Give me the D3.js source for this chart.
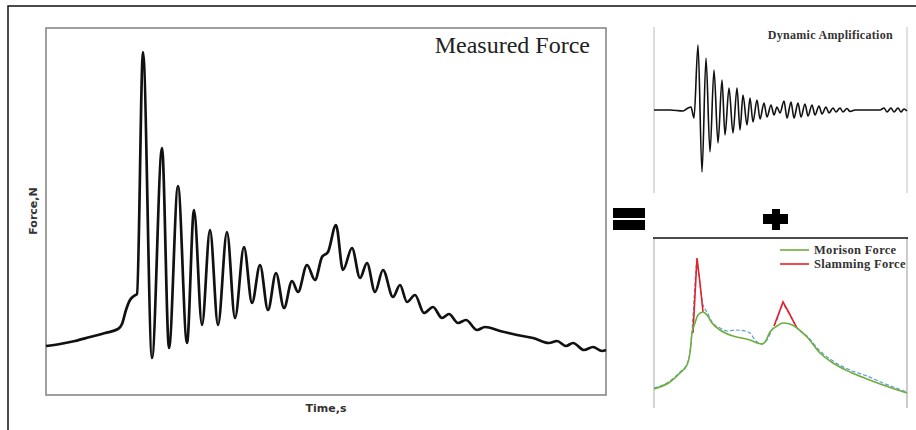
<!DOCTYPE html>
<html>
<head>
<meta charset="utf-8">
<script src="https://cdn.jsdelivr.net/npm/d3@7"></script>
<style>
  body { margin: 0; background: #fff; }
  svg { display: block; }
  .serif { font-family: "Liberation Serif", "Times New Roman", serif; }
  .sans { font-family: "DejaVu Sans", Verdana, sans-serif; font-weight: bold; }
</style>
</head>
<body>
<div id="div_graph"></div>
<script>
// measured force (main panel), time in s, force in N
var measTime = [0, 0.14, 0.29, 0.44, 0.59, 0.72, 0.76, 0.80, 0.84, 0.88, 0.91, 0.97, 1.06, 1.16, 1.23, 1.32,
  1.41, 1.48, 1.56, 1.64, 1.72, 1.81, 1.89, 1.98, 2.06, 2.14, 2.22, 2.30, 2.38, 2.46, 2.52, 2.61, 2.69,
  2.76, 2.82, 2.90, 2.97, 3.06, 3.14, 3.21, 3.29, 3.37, 3.47, 3.54, 3.61, 3.69, 3.78, 3.87, 3.96, 4.03,
  4.12, 4.20, 4.31, 4.39, 4.54, 4.71, 4.87, 5.03, 5.11, 5.20, 5.27, 5.38, 5.47, 5.56, 5.60];
var measForce = [49, 51, 54, 58, 62, 66, 71, 85, 95, 99, 101, 343, 37, 247, 47, 209,
  52, 185, 70, 165, 70, 163, 77, 148, 92, 130, 85, 122, 87, 114, 103, 130, 115,
  138, 143, 170, 125, 147, 117, 132, 103, 125, 98, 110, 93, 100, 82, 88, 77, 81,
  72, 75, 65, 68, 64, 60, 57, 52, 54, 49, 52, 45, 48, 44, 45];

// dynamic amplification (top right)
var dynTime = [0, 0.16, 0.29, 0.34, 0.37, 0.40, 0.44, 0.48, 0.52, 0.56, 0.60, 0.64, 0.68, 0.71, 0.75, 0.79,
  0.83, 0.86, 0.89, 0.93, 0.96, 0.99, 1.03, 1.06, 1.10, 1.13, 1.17, 1.20, 1.23, 1.26, 1.30, 1.33, 1.37,
  1.40, 1.44, 1.47, 1.51, 1.54, 1.58, 1.61, 1.65, 1.68, 1.72, 1.75, 1.79, 1.82, 1.86, 1.89, 1.93, 1.96,
  2.01, 2.26, 2.30, 2.33, 2.37, 2.40, 2.44, 2.47, 2.50, 2.53];
var dynForce = [0, 0, -1, 2, 3, -8, 65, -62, 52, -42, 40, -33, 30, -25, 22, -23,
  22, -20, 15, -15, 12, -12, 10, -9, 7, -7, 5, -5, 3, -3, 9, -8, 8,
  -8, 7, -7, 6, -6, 5, -5, 4, -4, 3, -3, 2, -2, 2, -2, 1.5, -1.5,
  0, 0, 2, -2, 2, -2, 2, -2, 1, -1];

// Morison force (green), slamming force (red), measured (blue dashed)
var morTime = [0, 0.16, 0.26, 0.33, 0.36, 0.38, 0.41, 0.44, 0.49, 0.53, 0.58, 0.66, 0.79, 0.96, 1.03,
  1.08, 1.11, 1.16, 1.23, 1.29, 1.36, 1.43, 1.53, 1.66, 1.79, 1.96, 2.13, 2.29, 2.53];
var morForce = [19, 26, 35, 43, 55, 75, 85, 93, 96, 93, 85, 78, 72, 68, 65,
  64, 66, 76, 82, 85, 84, 80, 71, 55, 45, 36, 29, 23, 15];

var slamTime1 = [0.39, 0.43, 0.46, 0.49];
var slamForce1 = [75, 150, 125, 96];
var slamTime2 = [1.20, 1.29, 1.34, 1.43];
var slamForce2 = [82, 106, 97, 80];

var blueTime = [0, 0.16, 0.26, 0.33, 0.36, 0.38, 0.40, 0.43, 0.46, 0.49, 0.53, 0.58, 0.66, 0.74, 0.81,
  0.91, 0.96, 1.01, 1.08, 1.13, 1.18, 1.23, 1.29, 1.34, 1.43, 1.53, 1.66, 1.79, 1.96, 2.13, 2.29, 2.53];
var blueForce = [20, 27, 36, 44, 56, 76, 108, 146, 123, 103, 96, 86, 80, 77, 78,
  77, 75, 68, 64, 68, 78, 88, 103, 96, 80, 72, 57, 47, 38, 32, 25, 16];

var legendLabels = ["Morison Force", "Slamming Force"];
var legendColors = ["#6fae3e", "#e8202a"];

var W = 916, H = 430;
var svg = d3.select("#div_graph").append("svg").attr("width", W).attr("height", H);

function zip(xs, ys)
{
  return xs.map(function(x, i) { return { t: x, f: ys[i] }; });
}

// outer frame (runs off the picture on right/bottom)
svg.append("rect").attr("x", 8).attr("y", 6).attr("width", 1000).attr("height", 1000)
  .attr("fill", "none").attr("stroke", "#111").attr("stroke-width", 1.5);

function buildMain()
{
  var x = d3.scaleLinear().domain([0, 5.6]).range([46, 606]);
  var y = d3.scaleLinear().domain([0, 367]).range([395, 28]);

  svg.append("rect").attr("x", 46).attr("y", 28).attr("width", 560).attr("height", 367)
    .attr("fill", "#fff").attr("stroke", "#808080").attr("stroke-width", 1.5);

  var line = d3.line().x(function(d) { return x(d.t); }).y(function(d) { return y(d.f); })
    .curve(d3.curveMonotoneX);
  svg.append("path").datum(zip(measTime, measForce)).attr("d", line)
    .attr("fill", "none").attr("stroke", "#111").attr("stroke-width", 2.7)
    .attr("stroke-linejoin", "round");

  svg.append("text").attr("class", "serif").attr("x", 590).attr("y", 53)
    .attr("text-anchor", "end").style("font-size", "24px").attr("fill", "#222").text("Measured Force");

  svg.append("text").attr("class", "sans")
    .attr("transform", "translate(37,211) rotate(-90)")
    .attr("text-anchor", "middle").style("font-size", "11px").attr("fill", "#333").text("Force,N");

  svg.append("text").attr("class", "sans").attr("x", 326).attr("y", 412)
    .attr("text-anchor", "middle").style("font-size", "11px").attr("fill", "#333").text("Time,s");
}

function buildDynamic()
{
  var x = d3.scaleLinear().domain([0, 2.53]).range([654, 907]);
  var y = d3.scaleLinear().domain([-83, 83]).range([193, 27]);

  svg.append("line").attr("x1", 654).attr("x2", 654).attr("y1", 27).attr("y2", 193)
    .attr("stroke", "#bbb").attr("stroke-width", 1);
  svg.append("line").attr("x1", 907).attr("x2", 907).attr("y1", 27).attr("y2", 193)
    .attr("stroke", "#ccc").attr("stroke-width", 1.2);

  var line = d3.line().x(function(d) { return x(d.t); }).y(function(d) { return y(d.f); })
    .curve(d3.curveMonotoneX);
  svg.append("path").datum(zip(dynTime, dynForce)).attr("d", line)
    .attr("fill", "none").attr("stroke", "#111").attr("stroke-width", 1.6);

  svg.append("text").attr("class", "serif").attr("x", 893).attr("y", 39)
    .attr("text-anchor", "end").style("font-size", "12px").style("font-weight", "bold")
    .style("letter-spacing", "0.3px").attr("fill", "#333").text("Dynamic Amplification");
}

function buildComponents()
{
  var x = d3.scaleLinear().domain([0, 2.53]).range([654, 907]);
  var y = d3.scaleLinear().domain([0, 170]).range([408, 238]);

  svg.append("line").attr("x1", 654).attr("x2", 654).attr("y1", 238).attr("y2", 408)
    .attr("stroke", "#aaa").attr("stroke-width", 1);
  svg.append("line").attr("x1", 907).attr("x2", 907).attr("y1", 238).attr("y2", 408)
    .attr("stroke", "#ccc").attr("stroke-width", 2);
  svg.append("line").attr("x1", 653).attr("x2", 908).attr("y1", 238).attr("y2", 238)
    .attr("stroke", "#111").attr("stroke-width", 1.3);

  var smooth = d3.line().x(function(d) { return x(d.t); }).y(function(d) { return y(d.f); })
    .curve(d3.curveMonotoneX);
  var straight = d3.line().x(function(d) { return x(d.t); }).y(function(d) { return y(d.f); });

  svg.append("path").datum(zip(blueTime, blueForce)).attr("d", smooth)
    .attr("fill", "none").attr("stroke", "#5b9bd5").attr("stroke-width", 1.2)
    .attr("stroke-dasharray", "4,2");
  svg.append("path").datum(zip(slamTime1, slamForce1)).attr("d", straight)
    .attr("fill", "none").attr("stroke", legendColors[1]).attr("stroke-width", 1.6);
  svg.append("path").datum(zip(slamTime2, slamForce2)).attr("d", straight)
    .attr("fill", "none").attr("stroke", legendColors[1]).attr("stroke-width", 1.6);
  svg.append("path").datum(zip(morTime, morForce)).attr("d", smooth)
    .attr("fill", "none").attr("stroke", legendColors[0]).attr("stroke-width", 1.6);

  var lg = svg.append("g").attr("transform", "translate(780,250)");
  legendLabels.forEach(function(lbl, i)
  {
    lg.append("line").attr("x1", 0).attr("x2", 29).attr("y1", i * 14).attr("y2", i * 14)
      .attr("stroke", legendColors[i]).attr("stroke-width", 1.6);
    lg.append("text").attr("class", "serif").attr("x", 34).attr("y", i * 14 + 4)
      .style("font-size", "12.5px").style("font-weight", "bold").style("letter-spacing", "0.3px")
      .attr("fill", "#333").text(lbl);
  });
}

function buildSigns()
{
  // "=" between main and right panels
  svg.append("rect").attr("x", 613).attr("y", 208).attr("width", 32).attr("height", 10).attr("fill", "#000");
  svg.append("rect").attr("x", 613).attr("y", 220).attr("width", 32).attr("height", 10).attr("fill", "#000");
  // "+" between right panels
  svg.append("rect").attr("x", 772).attr("y", 209).attr("width", 8).attr("height", 21).attr("fill", "#000");
  svg.append("rect").attr("x", 763).attr("y", 214).attr("width", 25).attr("height", 10).attr("fill", "#000");
}

buildMain();
buildDynamic();
buildComponents();
buildSigns();
</script>
</body>
</html>
